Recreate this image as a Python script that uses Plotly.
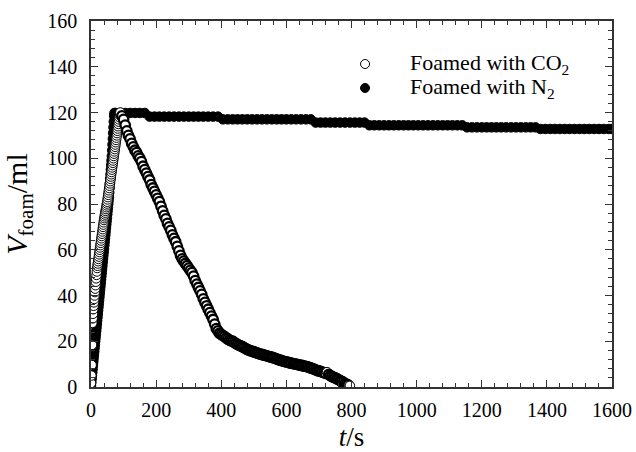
import plotly.graph_objects as go

# ---------------- data ----------------
# Foamed with CO2 (open circles)
co2_t = [0, 1, 2, 3, 4, 5, 6, 7, 8, 9, 10, 11, 12, 13, 14, 15, 16, 17, 18, 19,
         20, 21, 22, 23, 24, 25, 26, 27, 28, 29, 30, 31, 32, 33, 34, 35, 36, 37, 38, 39,
         40, 41, 42, 43, 44, 45, 46, 47, 48, 49, 50, 51, 52, 53, 54, 55, 56, 57, 58, 59,
         60, 61, 62, 63, 64, 65, 66, 67, 68, 69, 70, 71, 72, 73, 74, 75, 76, 77, 78, 79,
         80, 81, 82, 83, 84, 85, 86, 87, 88, 89, 90,
         95, 100, 105, 110, 115, 120, 125, 130, 135, 140, 145, 150, 155, 160, 165, 170,
         175, 180, 185, 190, 195, 200, 205, 210, 215, 220, 225, 230, 235, 240, 245, 250,
         255, 260, 265, 270, 275, 280, 285, 290, 295, 300, 305, 310, 315, 320, 325, 330,
         335, 340, 345, 350, 355, 360, 365, 370, 375, 380, 385, 390, 395, 400, 405, 410,
         415, 420, 425, 430, 435, 440, 445, 450, 455, 460, 465, 470, 475, 480, 485, 490,
         495, 500, 505, 510, 515, 520, 525, 530, 535, 540, 545, 550, 555, 560, 565, 570,
         575, 580, 585, 590, 595, 600, 605, 610, 615, 620, 625, 630, 635, 640, 645, 650,
         655, 660, 665, 670, 675, 680, 685, 690, 695, 700, 705, 710, 715, 720, 725, 730,
         735, 740, 745, 750, 755, 760, 765, 770, 775, 780, 785, 790, 795]
co2_v = [1.7, 5, 9.6, 18.4, 28, 30, 32, 34, 35.5, 37, 38.5, 40, 41.5, 43, 44.5, 46, 47.5, 49, 50.5, 52,
         53, 54, 55, 56, 57, 58, 59, 60, 61, 62, 63, 64, 65, 66, 67, 68, 69, 70, 71, 72,
         73, 73.8, 74.6, 75.4, 76.2, 77, 77.8, 78.6, 79.4, 80.2, 81, 82, 83, 84, 85, 86, 87, 88, 89, 90,
         91, 92, 93, 94, 95, 96, 97, 98, 99, 100, 101, 102, 103, 104, 105, 106, 107, 108, 109, 110,
         111, 112, 113, 114, 115, 116, 117, 118, 119, 119.5, 120,
         118.5, 117, 114.5, 112, 110, 108.5, 106.5, 105, 103.5, 102.5, 101, 100, 98.5, 96.5, 95, 93.5,
         92, 90.5, 88.5, 87, 85.5, 84, 82.5, 81, 79, 77, 75, 73.5, 71.5, 70, 68.5, 66.5,
         65, 63.5, 61.5, 59.5, 57.5, 56, 55, 54, 53, 52, 51, 50, 48.5, 46.5, 45, 43.5,
         42, 40.5, 38.5, 37, 35.5, 34, 32.5, 31, 29.5, 27.5, 25.5, 24.5, 23.5, 23, 22.5, 22,
         21.5, 21, 20.5, 20.2, 20, 19.5, 19, 18.6, 18.2, 18, 17.6, 17.2, 16.8, 16.4, 16.1, 15.8,
         15.6, 15.4, 15.1, 14.9, 14.6, 14.4, 14.2, 14, 13.8, 13.6, 13.4, 13.2, 13, 12.8, 12.5, 12.3,
         12, 11.8, 11.5, 11.3, 11.1, 11, 10.8, 10.6, 10.4, 10.2, 10.1, 10, 9.8, 9.6, 9.5, 9.3,
         9.1, 9, 8.8, 8.6, 8.3, 8, 7.8, 7.5, 7.2, 7, 6.8, 6.5, 6.3, 6, 6.5, 5.5,
         5, 4.6, 4.2, 4, 3.6, 3.2, 2.8, 2.5, 2, 1.5, 1.2, 0.8, 0.5]

# Foamed with N2 (filled circles)
n2_t = [0, 1, 2, 3, 4, 5, 6, 7, 8, 9, 10, 11, 12, 13, 14, 15, 16, 17, 18, 19,
        20, 21, 22, 23, 24, 25, 26, 27, 28, 29, 30, 31, 32, 33, 34, 35, 36, 37, 38, 39,
        40, 41, 42, 43, 44, 45, 46, 47, 48, 49, 50, 51, 52, 53, 54, 55, 56, 57, 58, 59,
        60, 61, 62, 63, 64, 65, 66, 67, 68, 69, 70, 71, 72,
        75, 90, 105, 120, 135, 150, 165, 180, 195, 210, 225, 240, 255, 270, 285, 300,
        315, 330, 345, 360, 375, 390, 405, 420, 435, 450, 465, 480, 495, 510, 525, 540,
        555, 570, 585, 600, 615, 630, 645, 660, 675, 690, 705, 720, 735, 750, 765, 780,
        795, 810, 825, 840, 855, 870, 885, 900, 915, 930, 945, 960, 975, 990, 1005, 1020,
        1035, 1050, 1065, 1080, 1095, 1110, 1125, 1140, 1155, 1170, 1185, 1200, 1215, 1230,
        1245, 1260, 1275, 1290, 1305, 1320, 1335, 1350, 1365, 1380, 1395, 1410, 1425, 1440,
        1455, 1470, 1485, 1500, 1515, 1530, 1545, 1560, 1575, 1590, 1600]
n2_v = [0.5, 2, 3.5, 5, 6.5, 8, 9.5, 11, 12.5, 14, 15.5, 17, 18.5, 20, 21.5, 23, 24.5, 26, 27.5, 29,
        30.5, 32, 33.5, 35, 36.5, 38, 39.5, 41, 42.5, 44, 45.5, 47, 48.5, 50, 51.5, 53, 54.5, 56, 57.5, 59,
        60.5, 62, 63.5, 65, 66.5, 68, 69.5, 71, 72.5, 74, 75.5, 77, 78.5, 80, 81.5, 83, 85, 87, 89, 91,
        93, 95, 97, 99, 101, 103.5, 106, 108.5, 111, 113.5, 116, 118.5, 119.8,
        119.8, 119.8, 119.8, 119.8, 119.8, 119.8, 119.8, 118.2, 118.2, 118.2, 118.2, 118.2, 118.2, 118.2, 118.2, 118.2,
        118.2, 118.2, 118.2, 118.2, 118.2, 118.2, 117.0, 117.0, 117.0, 117.0, 117.0, 117.0, 117.0, 117.0, 117.0, 117.0,
        117.0, 117.0, 117.0, 117.0, 117.0, 117.0, 117.0, 117.0, 117.0, 115.6, 115.6, 115.6, 115.6, 115.6, 115.6, 115.6,
        115.6, 115.6, 115.6, 115.6, 114.4, 114.4, 114.4, 114.4, 114.4, 114.4, 114.4, 114.4, 114.4, 114.4, 114.4, 114.4,
        114.4, 114.4, 114.4, 114.4, 114.4, 114.4, 114.4, 114.4, 113.5, 113.5, 113.5, 113.5, 113.5, 113.5,
        113.5, 113.5, 113.5, 113.5, 113.5, 113.5, 113.5, 113.5, 113.5, 112.8, 112.8, 112.8, 112.8, 112.8,
        112.8, 112.8, 112.8, 112.8, 112.8, 112.8, 112.8, 112.8, 112.8, 112.8, 112.8]

x_ticks = [0, 200, 400, 600, 800, 1000, 1200, 1400, 1600]
y_ticks = [0, 20, 40, 60, 80, 100, 120, 140, 160]
legend_labels = ["Foamed with CO<sub>2</sub>", "Foamed with N<sub>2</sub>"]

# ---------------- figure ----------------
FONT = "Liberation Serif"
AX = "#333333"
MSIZE = 9.5

# outline weight per CO2 point: thin on the rise, heavier on the dense decay (style only)
co2_lw = [1.0 if t <= 90 else 2.3 for t in co2_t]
co2_lw[-1] = 1.0
co2_lw[co2_t.index(725)] = 1.0

fig = go.Figure()
fig.add_trace(go.Scatter(
    x=n2_t, y=n2_v, mode="markers", name=legend_labels[1], showlegend=False,
    marker=dict(symbol="circle", size=MSIZE, color="black", line=dict(color="black", width=1)),
))
fig.add_trace(go.Scatter(
    x=co2_t, y=co2_v, mode="markers", name=legend_labels[0], showlegend=False,
    marker=dict(symbol="circle", size=MSIZE, color="white", line=dict(color="black", width=co2_lw)),
))

axis_common = dict(
    showline=True, linecolor=AX, linewidth=1.5, mirror="ticks",
    ticks="inside", ticklen=7, tickwidth=1.3, tickcolor=AX,
    showgrid=False, zeroline=False, automargin=False,
    tickfont=dict(family=FONT, size=20, color="black"),
)

fig.update_xaxes(
    range=[0, 1600], tickvals=x_ticks, ticktext=[str(v) for v in x_ticks],
    minor=dict(ticks="inside", dtick=40, tick0=0, ticklen=4, tickwidth=1, tickcolor=AX),
    ticklabelstandoff=4,
    title=dict(text="<i>t</i>/s", font=dict(family=FONT, size=27, color="black"), standoff=10),
    **axis_common,
)
fig.update_yaxes(
    range=[0, 160], tickvals=y_ticks, ticktext=[str(v) for v in y_ticks],
    minor=dict(ticks="inside", dtick=4, tick0=0, ticklen=4, tickwidth=1, tickcolor=AX),
    ticklabelstandoff=8,
    title=dict(text="<i>V</i><sub>foam</sub>/ml", font=dict(family=FONT, size=30, color="black"), standoff=12),
    **axis_common,
)

# legend drawn manually for exact spacing (symbols + labels)
leg_x_sym = 0.526
leg_x_txt = 0.6085
leg_rows = [0.8825, 0.817]
leg_fill = ["white", "black"]
shapes = []
annotations = []
for lbl, yy, fill in zip(legend_labels, leg_rows, leg_fill):
    shapes.append(dict(
        type="circle", xref="paper", yref="paper", xsizemode="pixel", ysizemode="pixel",
        xanchor=leg_x_sym, yanchor=yy, x0=-4.5, x1=4.5, y0=-4.5, y1=4.5,
        fillcolor=fill, line=dict(color="black", width=1),
    ))
    annotations.append(dict(
        text=lbl, xref="paper", yref="paper", x=leg_x_txt, y=yy,
        xanchor="left", yanchor="middle", showarrow=False,
        font=dict(family=FONT, size=22, color="black"),
    ))

fig.update_layout(
    width=636, height=452,
    margin=dict(l=91, r=24, t=21, b=65),
    paper_bgcolor="white", plot_bgcolor="white",
    showlegend=False,
    shapes=shapes, annotations=annotations,
)

fig.write_html("out.html")
